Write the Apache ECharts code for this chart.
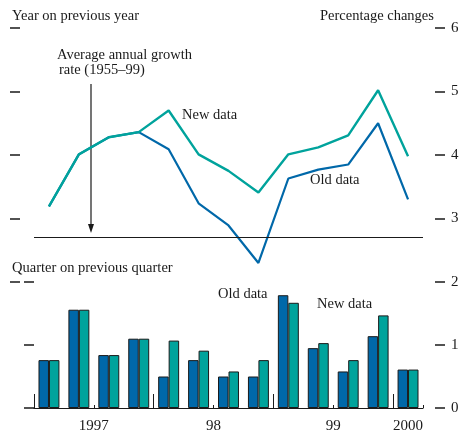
<!DOCTYPE html>
<html>
<head>
<meta charset="utf-8">
<script src="https://cdn.jsdelivr.net/npm/echarts@6/dist/echarts.min.js"></script>
<style>
  html, body { margin: 0; padding: 0; background: #fff; }
  #chart { width: 463px; height: 434px; }
</style>
</head>
<body>
<div id="chart"></div>
<script>
// quarters 1997 Q1 .. 2000 Q1
const quarters = ['97Q1', '97Q2', '97Q3', '97Q4', '98Q1', '98Q2', '98Q3', '98Q4',
    '99Q1', '99Q2', '99Q3', '99Q4', '00Q1']
// year on previous year, %
const newAnnual = [3.19, 4.01, 4.28, 4.36, 4.70, 4.01, 3.75, 3.41, 4.01, 4.12, 4.31, 5.02, 3.98]
const oldAnnual = [3.19, 4.01, 4.28, 4.36, 4.09, 3.24, 2.89, 2.30, 3.63, 3.77, 3.85, 4.50, 3.30]
const avgGrowth = 2.7
// quarter on previous quarter, %
const oldQuarterly = [0.76, 1.56, 0.84, 1.10, 0.50, 0.76, 0.50, 0.50, 1.79, 0.95, 0.58, 1.14, 0.61]
const newQuarterly = [0.76, 1.56, 0.84, 1.10, 1.07, 0.91, 0.58, 0.76, 1.67, 1.03, 0.76, 1.47, 0.61]
// year labels sit at the middle of each year's quarters
const yearTicks = [0, 4, 8, 12]
const yearLabelPos = [2, 6, 10, 12.5]
const yearLabels = ['1997', '98', '99', '2000']

const OLD = '#0068a9'
const NEW = '#00a39c'
const INK = '#1a1a1a'
const FONT = 'Liberation Serif'

let chart = echarts.init(document.getElementById('chart'))

function leftTicks(grid) {
    return {
        type: 'value', gridIndex: grid, position: 'left', offset: 14,
        min: grid === 0 ? 2 : 0, max: grid === 0 ? 6 : 2, interval: 1,
        axisLine: { show: false },
        axisTick: { show: true, length: 10, lineStyle: { color: INK, width: 1.5 } },
        axisLabel: { show: false },
        splitLine: { show: false }
    }
}
function rightTicks(grid) {
    return {
        type: 'value', gridIndex: grid, position: 'right', offset: 22,
        min: grid === 0 ? 2 : 0, max: grid === 0 ? 6 : 2, interval: 1,
        axisLine: { show: false },
        axisTick: { show: true, inside: true, length: 10, lineStyle: { color: INK, width: 1.5 } },
        axisLabel: {
            margin: 6, color: INK, fontFamily: FONT, fontSize: 15,
            formatter: v => (grid === 0 && v === 2) ? '' : String(v)
        },
        splitLine: { show: false }
    }
}

function txt(x, y, s) {
    return {
        type: 'text', x: x, y: y,
        style: { text: s, fill: INK, font: '14.5px "' + FONT + '"', textVerticalAlign: 'bottom' }
    }
}

let option = {
    animation: false,
    grid: [
        { left: 34, right: 40, top: 28, height: 254 },
        { left: 34, right: 40, top: 282, height: 128 }
    ],
    xAxis: [
        { type: 'category', gridIndex: 0, data: quarters, show: false },
        {
            type: 'category', gridIndex: 1, data: quarters, position: 'bottom',
            axisLine: { lineStyle: { color: INK, width: 1.2 } },
            axisTick: { show: true, inside: true, length: 3, lineStyle: { color: INK } },
            axisLabel: { show: false }
        },
        {
            type: 'value', gridIndex: 1, min: 0, max: 13, position: 'bottom',
            axisLine: { show: false },
            axisTick: { show: true, inside: true, length: 14, customValues: yearTicks, lineStyle: { color: INK } },
            axisLabel: {
                customValues: yearLabelPos, margin: 11, color: INK, fontFamily: FONT, fontSize: 15,
                formatter: v => yearLabels[yearLabelPos.indexOf(v)] || ''
            },
            splitLine: { show: false }
        }
    ],
    yAxis: [leftTicks(0), rightTicks(0), leftTicks(1), rightTicks(1)],
    series: [
        {
            name: 'Old data', type: 'line', xAxisIndex: 0, yAxisIndex: 0,
            data: oldAnnual, symbol: 'none', z: 2,
            lineStyle: { color: OLD, width: 2.2 }
        },
        {
            name: 'New data', type: 'line', xAxisIndex: 0, yAxisIndex: 0,
            data: newAnnual, symbol: 'none', z: 3,
            lineStyle: { color: NEW, width: 2.4 },
            markLine: {
                silent: true, symbol: 'none', label: { show: false },
                lineStyle: { color: INK, width: 1.2, type: 'solid' },
                data: [{ yAxis: avgGrowth }]
            }
        },
        {
            name: 'Old data q', type: 'bar', xAxisIndex: 1, yAxisIndex: 2,
            data: oldQuarterly, barGap: '0%', barCategoryGap: '30%',
            itemStyle: { color: OLD, borderColor: INK, borderWidth: 1 }
        },
        {
            name: 'New data q', type: 'bar', xAxisIndex: 1, yAxisIndex: 2,
            data: newQuarterly, barGap: '0%', barCategoryGap: '30%',
            itemStyle: { color: NEW, borderColor: INK, borderWidth: 1 }
        }
    ],
    graphic: [
        txt(12, 24, 'Year on previous year'),
        txt(320, 24, 'Percentage changes'),
        txt(57, 63, 'Average annual growth'),
        txt(59, 78, 'rate (1955\u201399)'),
        txt(182, 123, 'New data'),
        txt(310, 188, 'Old data'),
        txt(12, 276, 'Quarter on previous quarter'),
        txt(218, 302, 'Old data'),
        txt(317, 312, 'New data'),
        {
            type: 'line', shape: { x1: 91, y1: 84, x2: 91, y2: 226 },
            style: { stroke: INK, lineWidth: 1.2 }
        },
        {
            type: 'polygon', shape: { points: [[88, 224], [94, 224], [91, 233]] },
            style: { fill: INK }
        }
    ]
}
chart.setOption(option)
</script>
</body>
</html>
